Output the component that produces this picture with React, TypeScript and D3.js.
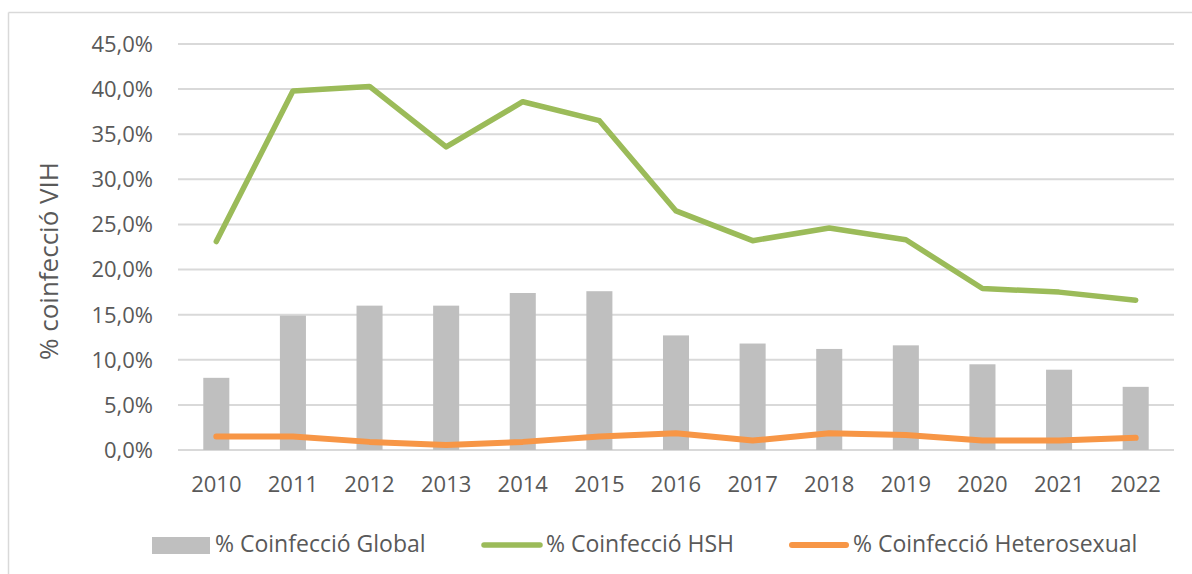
import React from "react";
import * as d3 from "d3";

const years = ["2010","2011","2012","2013","2014","2015","2016","2017","2018","2019","2020","2021","2022"];
const globalVals = [8.0, 14.9, 16.0, 16.0, 17.4, 17.6, 12.7, 11.8, 11.2, 11.6, 9.5, 8.9, 7.0];
const hshVals = [23.1, 39.8, 40.3, 33.6, 38.6, 36.5, 26.5, 23.2, 24.6, 23.3, 17.9, 17.5, 16.6];
const heteroVals = [1.5, 1.5, 0.9, 0.55, 0.9, 1.5, 1.85, 1.05, 1.85, 1.65, 1.05, 1.05, 1.35];
const yTicks = [0, 5, 10, 15, 20, 25, 30, 35, 40, 45];
const legendLabels = ["% Coinfecció Global", "% Coinfecció HSH", "% Coinfecció Heterosexual"];
const yTitle = "% coinfecció VIH";

const GRAY = "#BFBFBF";
const GREEN = "#9BBB59";
const ORANGE = "#F79646";
const TEXT = "#595959";
const GRID = "#D9D9D9";
const FONT = "'Open Sans', sans-serif";

const locale = d3.formatLocale({ decimal: ",", thousands: ".", grouping: [3], currency: ["", "€"] });
const fmt = locale.format(".1f");

export default function App() {
  const x = d3.scaleBand<string>().domain(years).range([178, 1174]).padding(0);
  const y = d3.scaleLinear().domain([0, 45]).range([450, 44]);
  const bw = x.bandwidth();
  const barW = bw * 0.34;
  const cx = (yr: string) => (x(yr) as number) + bw / 2;

  const line = d3
    .line<number>()
    .x((_, i) => cx(years[i]))
    .y((v) => y(v));

  return (
    <svg
      width={1192}
      height={574}
      style={{ position: "absolute", left: 0, top: 0, background: "#fff" }}
      fontFamily={FONT}
    >
      <rect x={0} y={0} width={1192} height={574} fill="#fff" />
      {/* chart frame */}
      <line x1={8.5} y1={12.5} x2={1192} y2={12.5} stroke={GRID} strokeWidth={1.5} />
      <line x1={8.5} y1={12.5} x2={8.5} y2={574} stroke={GRID} strokeWidth={1.5} />

      {/* gridlines */}
      {yTicks.map((t) => (
        <line key={t} x1={178} x2={1174} y1={y(t)} y2={y(t)} stroke={GRID} strokeWidth={2} />
      ))}

      {/* y tick labels */}
      {yTicks.map((t) => (
        <text key={t} x={153} y={y(t)} dy="0.36em" textAnchor="end" fontSize={22} fill={TEXT}>
          {fmt(t) + "%"}
        </text>
      ))}

      {/* y title */}
      <text
        transform={`translate(49,261) rotate(-90)`}
        textAnchor="middle"
        dy="0.36em"
        fontSize={26}
        fill={TEXT}
      >
        {yTitle}
      </text>

      {/* bars */}
      {globalVals.map((v, i) => (
        <rect
          key={years[i]}
          x={cx(years[i]) - barW / 2}
          y={y(v)}
          width={barW}
          height={y(0) - y(v)}
          fill={GRAY}
        />
      ))}

      {/* lines */}
      <path d={line(hshVals) || ""} fill="none" stroke={GREEN} strokeWidth={5.5} strokeLinejoin="round" strokeLinecap="round" />
      <path d={line(heteroVals) || ""} fill="none" stroke={ORANGE} strokeWidth={6} strokeLinejoin="round" strokeLinecap="round" />

      {/* x labels */}
      {years.map((yr) => (
        <text key={yr} x={cx(yr)} y={484} dy="0.36em" textAnchor="middle" fontSize={22} fill={TEXT}>
          {yr}
        </text>
      ))}

      {/* legend */}
      <rect x={152} y={537} width={58} height={17} fill={GRAY} />
      <text x={215} y={544} dy="0.36em" fontSize={23} fill={TEXT}>{legendLabels[0]}</text>
      <line x1={484} x2={540} y1={545} y2={545} stroke={GREEN} strokeWidth={5.5} strokeLinecap="round" />
      <text x={546} y={544} dy="0.36em" fontSize={23} fill={TEXT}>{legendLabels[1]}</text>
      <line x1={792} x2={846} y1={545} y2={545} stroke={ORANGE} strokeWidth={6} strokeLinecap="round" />
      <text x={853} y={544} dy="0.36em" fontSize={23} fill={TEXT}>{legendLabels[2]}</text>
    </svg>
  );
}
